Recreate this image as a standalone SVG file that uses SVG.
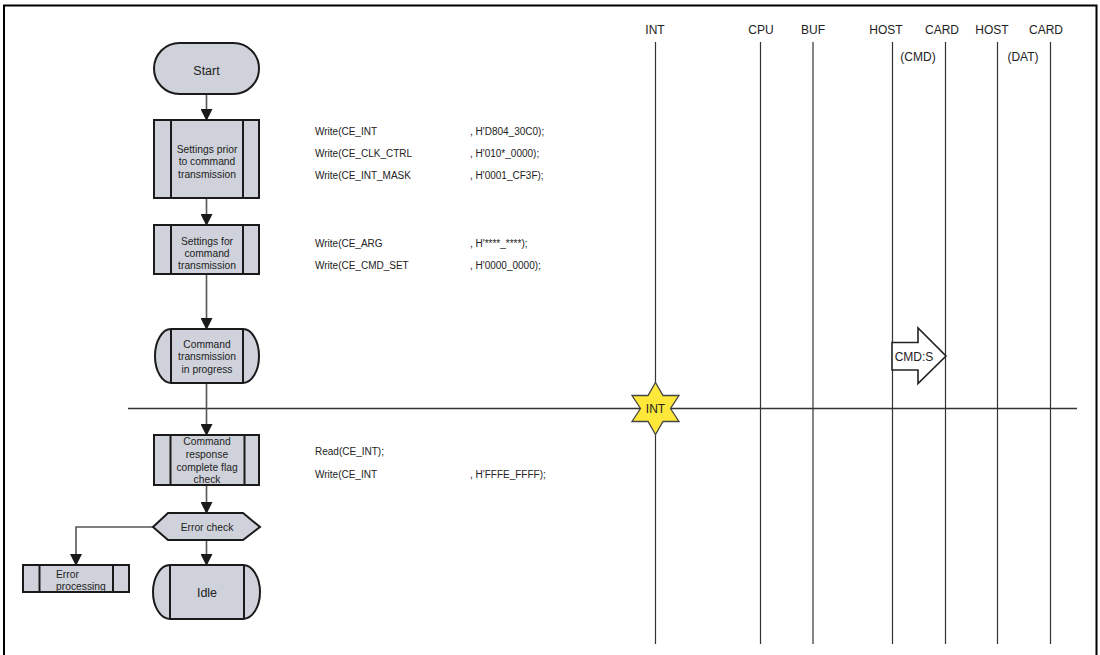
<svg xmlns="http://www.w3.org/2000/svg" width="1100" height="655" viewBox="0 0 1100 655">
<style>
.node{fill:#cfd2da;stroke:#1a1a1a;stroke-width:2}
.inner{stroke:#1a1a1a;stroke-width:2;fill:none}
.t{font-family:"Liberation Sans",Arial,sans-serif;font-size:10.3px;fill:#222;text-anchor:middle}
.big{font-size:12.5px}
.code{font-family:"Liberation Sans",Arial,sans-serif;font-size:10px;fill:#222}
.hdr{font-family:"Liberation Sans",Arial,sans-serif;font-size:12px;fill:#222;text-anchor:middle}
.life{stroke:#333;stroke-width:1.2;fill:none}
.conn{stroke:#555;stroke-width:1.6;fill:none}
</style>
<defs>
<marker id="ah" markerWidth="12" markerHeight="12" viewBox="0 0 12 12" refX="11" refY="6" orient="auto" markerUnits="userSpaceOnUse">
<path d="M0,0 L12,6 L0,12 Z" fill="#1a1a1a"/>
</marker>
</defs>
<rect x="0" y="0" width="1100" height="655" fill="#fff"/>
<path d="M4,660 V5.5 H1096.5 V660" fill="none" stroke="#000" stroke-width="2"/>

<g id="lifelines">
<text class="hdr" x="655" y="34">INT</text>
<text class="hdr" x="761" y="34">CPU</text>
<text class="hdr" x="813" y="34">BUF</text>
<text class="hdr" x="886" y="34">HOST</text>
<text class="hdr" x="942" y="34">CARD</text>
<text class="hdr" x="992" y="34">HOST</text>
<text class="hdr" x="1046" y="34">CARD</text>
<text class="hdr" x="918" y="61">(CMD)</text>
<text class="hdr" x="1023" y="61">(DAT)</text>
<line class="life" x1="655.5" y1="42" x2="655.5" y2="644"/>
<line class="life" x1="760.5" y1="42" x2="760.5" y2="644"/>
<line class="life" x1="813" y1="42" x2="813" y2="644"/>
<line class="life" x1="892.5" y1="42" x2="892.5" y2="644"/>
<line class="life" x1="945.5" y1="42" x2="945.5" y2="644"/>
<line class="life" x1="997.5" y1="42" x2="997.5" y2="644"/>
<line class="life" x1="1050.5" y1="42" x2="1050.5" y2="644"/>
</g>

<line x1="128" y1="408.5" x2="1077" y2="408.5" stroke="#333" stroke-width="1.3"/>

<g id="connectors">
<line class="conn" x1="206.5" y1="94" x2="206.5" y2="120" marker-end="url(#ah)"/>
<line class="conn" x1="206.5" y1="198" x2="206.5" y2="225" marker-end="url(#ah)"/>
<line class="conn" x1="206.5" y1="274" x2="206.5" y2="329" marker-end="url(#ah)"/>
<line class="conn" x1="206.5" y1="383" x2="206.5" y2="435" marker-end="url(#ah)"/>
<line class="conn" x1="206.5" y1="485" x2="206.5" y2="513" marker-end="url(#ah)"/>
<line class="conn" x1="206.5" y1="540" x2="206.5" y2="565" marker-end="url(#ah)"/>
<path class="conn" d="M153,527 H76 V565" marker-end="url(#ah)"/>
</g>

<g id="start">
<rect class="node" x="154" y="43" width="105" height="51" rx="25.5"/>
<text class="t big" x="206.5" y="75">Start</text>
</g>

<g id="settings-prior">
<rect class="node" x="154" y="120" width="105" height="78"/>
<line class="inner" x1="171" y1="120" x2="171" y2="198"/>
<line class="inner" x1="243" y1="120" x2="243" y2="198"/>
<text class="t" x="207" y="152.5">Settings prior</text>
<text class="t" x="207" y="165">to command</text>
<text class="t" x="207" y="177.5">transmission</text>
</g>

<g id="settings-for">
<rect class="node" x="154" y="225" width="105" height="49"/>
<line class="inner" x1="171" y1="225" x2="171" y2="274"/>
<line class="inner" x1="243" y1="225" x2="243" y2="274"/>
<text class="t" x="207" y="244.5">Settings for</text>
<text class="t" x="207" y="256.5">command</text>
<text class="t" x="207" y="268.5">transmission</text>
</g>

<g id="cmd-progress">
<path class="node" d="M171,329 H243 A16,27 0 0 1 243,383 H171 A16,27 0 0 1 171,329 Z"/>
<line class="inner" x1="171" y1="329" x2="171" y2="383"/>
<line class="inner" x1="243" y1="329" x2="243" y2="383"/>
<text class="t" x="207" y="347.5">Command</text>
<text class="t" x="207" y="360">transmission</text>
<text class="t" x="207" y="372.5">in progress</text>
</g>

<g id="resp-check">
<rect class="node" x="154" y="435" width="105" height="50"/>
<line class="inner" x1="170.5" y1="435" x2="170.5" y2="485"/>
<line class="inner" x1="244.5" y1="435" x2="244.5" y2="485"/>
<text class="t" x="207" y="445">Command</text>
<text class="t" x="207" y="458">response</text>
<text class="t" x="207" y="471">complete flag</text>
<text class="t" x="207" y="483">check</text>
</g>

<g id="error-check">
<path class="node" d="M153,527 L168,513 H243 L260,527 L243,540 H168 Z"/>
<text class="t" x="207" y="531">Error check</text>
</g>

<g id="idle">
<path class="node" d="M170,565 H243 A17,27 0 0 1 243,619 H170 A17,27 0 0 1 170,565 Z"/>
<line class="inner" x1="170" y1="565" x2="170" y2="619"/>
<line class="inner" x1="244" y1="565" x2="244" y2="619"/>
<text class="t big" x="207" y="596.5">Idle</text>
</g>

<g id="error-proc">
<rect class="node" x="23" y="565" width="106" height="27"/>
<line class="inner" x1="39.5" y1="565" x2="39.5" y2="592"/>
<line class="inner" x1="113" y1="565" x2="113" y2="592"/>
<text class="t" x="56" y="577.5" style="text-anchor:start">Error</text>
<text class="t" x="56" y="589.5" style="text-anchor:start">processing</text>
</g>

<g id="code">
<text class="code" x="315" y="135">Write(CE_INT</text>
<text class="code" x="470" y="135">, H'D804_30C0);</text>
<text class="code" x="315" y="157">Write(CE_CLK_CTRL</text>
<text class="code" x="470" y="157">, H'010*_0000);</text>
<text class="code" x="315" y="179">Write(CE_INT_MASK</text>
<text class="code" x="470" y="179">, H'0001_CF3F);</text>
<text class="code" x="315" y="247">Write(CE_ARG</text>
<text class="code" x="470" y="247">, H'****_****);</text>
<text class="code" x="315" y="269">Write(CE_CMD_SET</text>
<text class="code" x="470" y="269">, H'0000_0000);</text>
<text class="code" x="315" y="455">Read(CE_INT);</text>
<text class="code" x="315" y="478">Write(CE_INT</text>
<text class="code" x="470" y="478">, H'FFFE_FFFF);</text>
</g>

<g id="int-star">
<polygon points="655.5,382.5 663,395.5 679,395.5 670.5,408.5 679,421.5 663,421.5 655.5,434.5 648,421.5 632,421.5 640.5,408.5 632,395.5 648,395.5" fill="#ffe83a" stroke="#444" stroke-width="1.3"/>
<text class="hdr" x="655.5" y="413">INT</text>
</g>

<g id="cmd-s">
<path d="M892,342.5 H918 V328 L946,356 L918,383.5 V370 H892 Z" fill="#fff" stroke="#222" stroke-width="1.6"/>
<text class="hdr big" x="914" y="360.5">CMD:S</text>
</g>
</svg>
